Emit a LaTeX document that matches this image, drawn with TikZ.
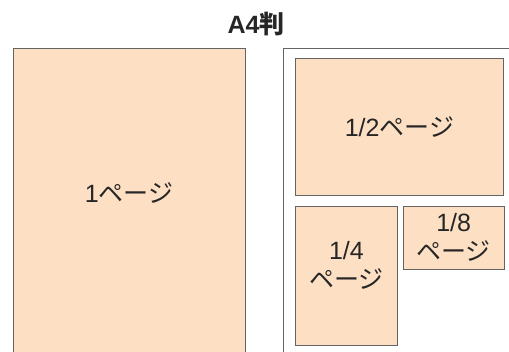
\documentclass[tikz,border=0pt]{standalone}
\usepackage{fontspec}
\setmainfont{Liberation Sans}
\newfontfamily\kana{Noto Sans CJK JP}
\usetikzlibrary{positioning}
\definecolor{pagefill}{RGB}{253,223,196}
\definecolor{pageline}{RGB}{100,100,100}
\newcommand{\pg}{{\kana ページ}}
\tikzset{
  sheet/.style={draw=pageline, line width=0.8pt, fill=pagefill, inner sep=0pt, anchor=north west},
  tag/.style={font=\fontsize{25}{29}\selectfont, align=center, text=black!85}
}
\begin{document}
\begin{tikzpicture}[x=1pt, y=1pt, node distance = 10pt and 5pt]
\useasboundingbox (0,0) rectangle (509,-351);
\clip (0,0) rectangle (509,-351);
\node[tag, font=\fontsize{25}{29}\selectfont\bfseries] (title) at (256,-24) {A4{\kana 判}};
\node[sheet, minimum width=232pt, minimum height=320pt] (full) at (13,-48) {};
\node[tag] (fulltext) at (129,-193) {1\pg};

\node[draw=pageline, line width=0.8pt, fill=white, minimum width=240pt, minimum height=320pt, anchor=north west] (frame) at (283,-48) {};
\node[sheet, tag, minimum width=208pt, minimum height=137pt] (half) at (295,-58) {1/2\pg};
\node[sheet, minimum width=102pt, minimum height=139pt, below = of half.south west, anchor=north west] (quarter) {};
\node[tag] (quartertext) at ([yshift=10pt]quarter.center) {1/4\\\pg};
\node[sheet, tag, minimum width=101pt, minimum height=63pt, right = of quarter.north east, anchor=north west] (eighth) {1/8\\\pg};
\end{tikzpicture}
\end{document}
